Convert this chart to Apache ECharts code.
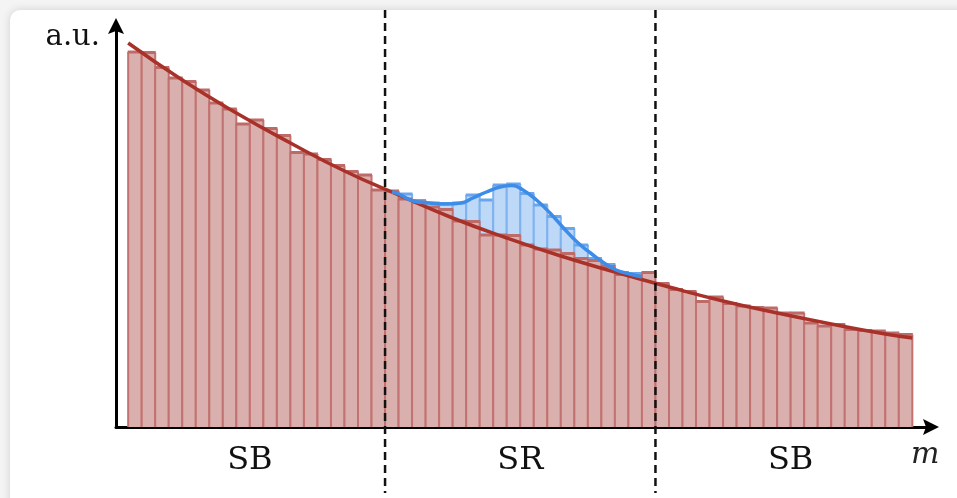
<!DOCTYPE html>
<html><head><meta charset="utf-8">
<script src="https://cdn.jsdelivr.net/npm/echarts@6/dist/echarts.min.js"></script>
<style>html,body{margin:0;padding:0;background:#fff}#chart{width:957px;height:498px}</style>
</head><body><div id="chart"></div>
<script>
// ---- data ----
const backgroundCounts = [375, 374.5, 359.5, 349, 345.5, 337, 324, 318, 303, 307, 298.5, 291.5, 274.5, 273, 267.5, 261.5, 255.5, 252, 237,
  236, 228, 225, 220, 217.5, 206, 205.5, 192, 192, 191.5, 182, 178, 177, 173.5, 168.5, 166.5, 160.5, 152.5, 151, 154.5,
  143.5, 137.5, 135.5, 125.5, 130, 123.5, 121, 119.5, 119, 114, 114, 104, 101, 102.5, 97.5, 96.5, 96, 94, 92.5];
const srFirstBin = 19;
const srTotalCounts = [236, 233, 226.5, 224, 223.5, 224, 232, 227, 242, 243, 233.5, 222, 210.5, 198.5, 182, 168.5, 162.5, 154.5, 153.5, 154.5];
const fitX = [0, 4, 8, 12, 16, 20, 24, 28, 32, 36, 40, 44, 48, 52, 56, 58];
const fitY = [384, 347, 314, 284, 256, 232, 209, 189, 171, 155, 140, 126, 114, 103, 93, 89];
const sigX = [19.5, 20, 21.1, 22.3, 23.6, 24.6, 25.5, 26.5, 27.5, 28.4, 29.2, 30.2, 31.2, 32.2, 33.2, 34.2, 35.2, 36.1, 37.1, 38];
const sigY = [235, 233, 226, 224, 223, 224, 229, 235, 240, 241.5, 237, 227, 214, 199, 185, 174, 164, 157, 153, 150];
const regionEdges = [19, 39];
const regionCenters = [9, 29, 49];
const regionLabels = ['SB', 'SR', 'SB'];
const xMin = -0.9, xMax = 59.38, yMax = 401;

// ---- build ----
const redItems = backgroundCounts.map((v, i) => [i, i + 1, 0, v]);
const blueItems = srTotalCounts.map((v, j) => [srFirstBin + j, srFirstBin + j + 1, backgroundCounts[srFirstBin + j], v]);

function histRender(fill, edge, cap) {
  return function (params, api) {
    const x0 = api.value(0), x1 = api.value(1), lo = api.value(2), hi = api.value(3);
    const a = api.coord([x0, hi]), b = api.coord([x1, lo]);
    const L = a[0], R = b[0], T = a[1], B = b[1];
    const kids = [
      { type: 'rect', shape: { x: L, y: T, width: R - L, height: B - T }, style: { fill: fill } },
      { type: 'line', shape: { x1: L, y1: T, x2: L, y2: B }, style: { stroke: edge, lineWidth: 2 } },
      { type: 'line', shape: { x1: R, y1: T, x2: R, y2: B }, style: { stroke: edge, lineWidth: 2 } }
    ];
    if (B - T > 0.6) kids.push({ type: 'line', shape: { x1: L - 0.5, y1: T, x2: R + 0.5, y2: T }, style: { stroke: cap, lineWidth: 3 } });
    return { type: 'group', children: kids };
  };
}

const arrowPath = 'path://M8,0 L16,16 L8,13 L0,16 Z';
const chart = echarts.init(document.getElementById('chart'), null, { renderer: 'canvas' });
const serif = 'DejaVu Serif';
chart.setOption({
  backgroundColor: '#f4f4f4',
  animation: false,
  graphic: [
    { type: 'rect', z: -10, shape: { x: 10, y: 10, width: 1000, height: 600, r: 10 },
      style: { fill: '#fff', shadowBlur: 8, shadowColor: 'rgba(0,0,0,0.15)' } },
    { type: 'text', left: 911, top: 440, z: 10, style: { text: 'm', font: 'italic 30px "DejaVu Serif"', fill: '#222' } }
  ],
  grid: { left: 116, right: 26, top: 26, bottom: 71 },
  xAxis: {
    type: 'value', min: xMin, max: xMax,
    axisLine: { show: true, onZero: false, symbol: ['none', arrowPath], symbolSize: [16, 16], lineStyle: { color: '#000', width: 3 } },
    axisTick: { show: false }, splitLine: { show: false },
    axisLabel: { customValues: regionCenters, formatter: v => regionLabels[regionCenters.indexOf(v)] || '',
      fontFamily: serif, fontSize: 32, color: '#111', margin: 18 }
  },
  yAxis: {
    type: 'value', min: 0, max: yMax,
    axisLine: { show: true, onZero: false, symbol: ['none', arrowPath], symbolSize: [16, 16], lineStyle: { color: '#000', width: 3 } },
    axisTick: { show: false }, splitLine: { show: false }, axisLabel: { show: false },
    name: 'a.u.', nameLocation: 'end', nameGap: -11,
    nameTextStyle: { fontFamily: serif, fontSize: 29, color: '#111', align: 'right', verticalAlign: 'middle', padding: [0, 16, 0, 0] }
  },
  series: [
    { type: 'custom', name: 'signal', renderItem: histRender('rgba(190,216,247,1)', '#7fb3ef', '#6aa6ee'),
      data: blueItems, encode: { x: [0, 1], y: [2, 3] }, z: 2 },
    { type: 'custom', name: 'background', renderItem: histRender('#dab0ae', '#c27270', '#bd6b69'),
      data: redItems, encode: { x: [0, 1], y: [2, 3] }, z: 3 },
    { type: 'line', name: 'fit', data: fitX.map((x, i) => [x, fitY[i]]), smooth: true, showSymbol: false,
      lineStyle: { color: '#a8322a', width: 3.5 }, z: 4 },
    { type: 'line', name: 'sig', data: sigX.map((x, i) => [x, sigY[i]]), smooth: true, showSymbol: false,
      lineStyle: { color: '#3d8de8', width: 3.5 }, z: 5 },
    { type: 'custom', name: 'edges', clip: false, z: 6, data: regionEdges.map(e => [e, 0]), encode: { x: 0, y: 1 },
      renderItem: function (params, api) {
        const base = api.coord([api.value(0), 0]);
        const top = api.coord([api.value(0), yMax]);
        return { type: 'line', shape: { x1: base[0], y1: top[1] - 16, x2: base[0], y2: base[1] + 66 },
          style: { stroke: '#111', lineWidth: 2.5, lineDash: [8, 5] } };
      } }
  ]
});
</script></body></html>
